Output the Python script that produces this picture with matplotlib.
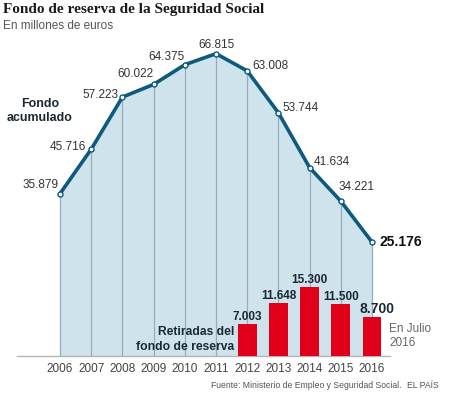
import numpy as np
import matplotlib
matplotlib.use("Agg")
import matplotlib.pyplot as plt

plt.rcParams['font.family'] = ['Liberation Sans', 'DejaVu Sans']

# data
years = [2006, 2007, 2008, 2009, 2010, 2011, 2012, 2013, 2014, 2015, 2016]
fondo = [35.879, 45.716, 57.223, 60.022, 64.375, 66.815, 63.008, 53.744, 41.634, 34.221, 25.176]
fondo_labels = ["35.879", "45.716", "57.223", "60.022", "64.375", "66.815",
                "63.008", "53.744", "41.634", "34.221", "25.176"]
ret_years = [2012, 2013, 2014, 2015, 2016]
retiradas = [7.003, 11.648, 15.300, 11.500, 8.700]
ret_labels = ["7.003", "11.648", "15.300", "11.500", "8.700"]

# label offsets in pixels (dx, dy, ha)
offs = [(-2, 9, "right"), (-5, 2, "right"), (-4, 2, "right"), (0, 10, "right"),
        (0, 8, "right"), (0, 9, "center"), (5, 5, "left"), (4, 5, "left"),
        (4, 6, "left"), (-2, 14, "left"), (7, 0, "left")]

line_col = "#0e5a7e"
fill_col = "#cfe3ec"
grid_col = "#93aeba"
red = "#e1001a"
txt = "#333333"

fig = plt.figure(figsize=(4.5, 3.94), dpi=100)
ax = fig.add_axes([17/450, 38/394, 373/450, 316.75/394])
ax.set_xlim(2004.62, 2016.577)
ax.set_ylim(0, 70)

ax.fill_between(years, 0, fondo, color=fill_col, lw=0, zorder=1)
ax.vlines(years, 0, fondo, color=grid_col, lw=0.9, zorder=2)
ax.bar(ret_years, retiradas, width=0.6, color=red, zorder=3)
ax.plot(years, fondo, color=line_col, lw=2.6, zorder=4, solid_joinstyle="round")
ax.plot(years, fondo, "o", ms=3.6, mfc="white", mec=line_col, mew=1.0, zorder=5)

for i, (x, v, lab) in enumerate(zip(years, fondo, fondo_labels)):
    dx, dy, ha = offs[i]
    last = i == len(years) - 1
    ax.annotate(lab, (x, v), xytext=(dx, dy), textcoords="offset pixels",
                ha=ha, va="center", fontsize=10 if last else 8.5,
                fontweight="bold" if last else "normal",
                color="#111111" if last else txt, zorder=6)

for i, (x, v, lab) in enumerate(zip(ret_years, retiradas, ret_labels)):
    last = i == len(ret_years) - 1
    if last:
        ax.annotate(lab, (x - 0.3, v), xytext=(-3, 1), textcoords="offset pixels",
                    ha="left", va="bottom", fontsize=10,
                    fontweight="bold", color="#1b2833", zorder=6)
    else:
        ax.annotate(lab, (x, v), xytext=(0, 1), textcoords="offset pixels",
                    ha="center", va="bottom", fontsize=8.5,
                    fontweight="bold", color="#1b2833", zorder=6)

for s in ["top", "right", "left"]:
    ax.spines[s].set_visible(False)
ax.spines["bottom"].set_color("#b5b5b5")
ax.spines["bottom"].set_linewidth(1.0)
ax.set_yticks([])
ax.set_xticks(years)
ax.set_xticklabels([str(y) for y in years], fontsize=8.5, color="#444444")
ax.tick_params(axis="x", length=0, pad=5)

fig.text(3/450, 1 - 10/394, "Fondo de reserva de la Seguridad Social",
         family="Liberation Serif", fontweight="bold", fontsize=11,
         va="center", ha="left", color="#1a1a1a")
fig.text(3/450, 1 - 26/394, "En millones de euros", fontsize=8.5,
         va="center", ha="left", color="#555555")
fig.text(40/450, 1 - 111/394, "Fondo\nacumulado", fontsize=8.9,
         fontweight="bold", ha="center", va="center", color="#1b2833",
         linespacing=1.25)
fig.text(234/450, 1 - 339.5/394, "Retiradas del\nfondo de reserva", fontsize=8.7,
         fontweight="bold", ha="right", va="center", color="#1b2833",
         linespacing=1.25)
fig.text(389/450, 1 - 336/394, "En Julio\n2016", fontsize=8.5,
         ha="left", va="center", color="#666666", linespacing=1.3)
fig.text(211/450, 1 - 386/394, "Fuente: Ministerio de Empleo y Seguridad Social.",
         fontsize=6.2, ha="left", va="center", color="#555555")
fig.text(407/450, 1 - 386/394, "EL PAÍS", fontsize=6.2, ha="left", va="center",
         color="#555555")

fig.savefig("out.png", dpi=100)
